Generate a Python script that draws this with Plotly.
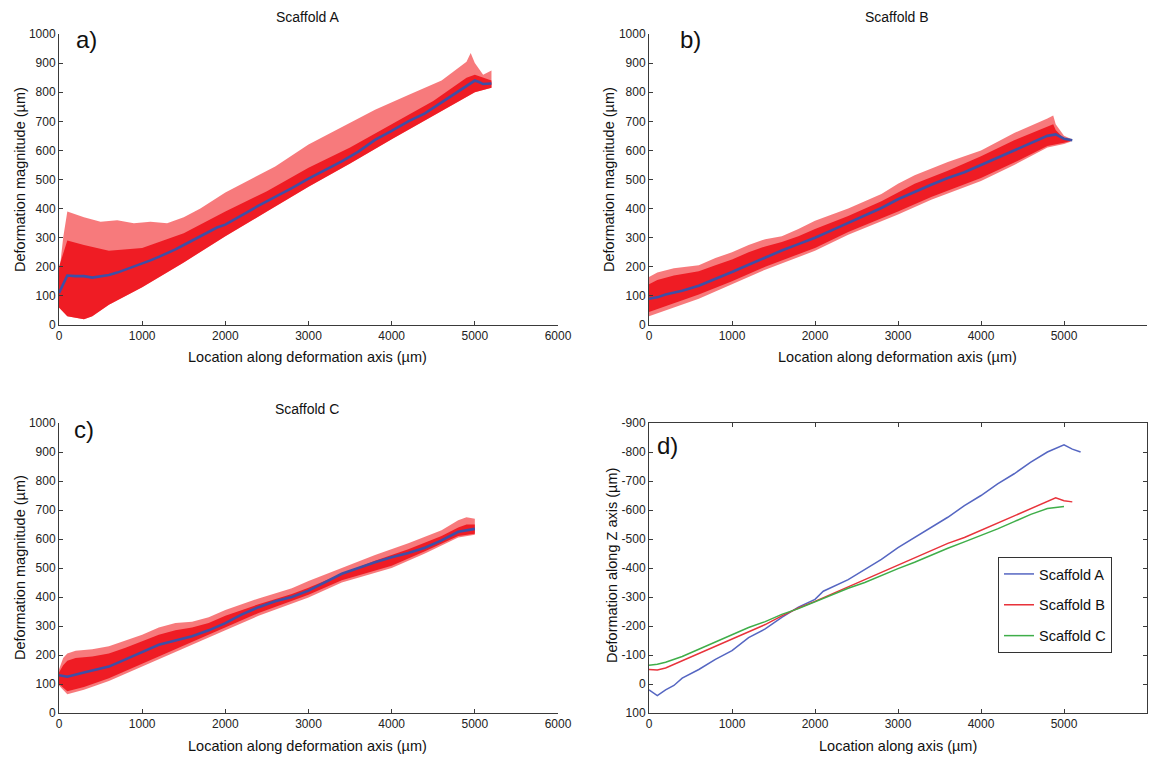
import plotly.graph_objects as go

# ---------------- data ----------------
# Scaffold A: cloud envelope (outer), dense core, and mean line
A_up_x = [0, 50, 100, 150, 300, 500, 700, 900, 1100, 1300, 1500, 1700, 2000, 2300, 2600, 3000, 3400, 3800, 4200, 4600, 4900, 4950, 5000, 5100, 5200]
A_up_y = [170, 300, 390, 385, 370, 355, 360, 350, 355, 350, 370, 400, 455, 500, 545, 620, 680, 740, 790, 840, 905, 935, 900, 860, 875]
A_lo_x = [0, 100, 200, 300, 400, 600, 1000, 1500, 2000, 2500, 3000, 3500, 4000, 4500, 5000, 5200]
A_lo_y = [60, 30, 25, 20, 30, 70, 130, 215, 305, 390, 475, 555, 638, 720, 800, 815]
A_core_x = [0, 100, 300, 600, 1000, 1500, 2000, 2500, 3000, 3500, 4000, 4500, 4900, 5000, 5200]
A_core_y = [200, 290, 275, 255, 265, 315, 390, 460, 540, 610, 690, 770, 850, 860, 840]
A_mean_x = [0, 50, 100, 200, 300, 400, 500, 600, 700, 800, 900, 1000, 1100, 1200, 1300, 1400, 1500, 1600, 1700, 1800, 1900, 2000, 2200, 2400, 2600, 2800, 3000, 3200, 3400, 3600, 3800, 4000, 4200, 4400, 4600, 4800, 5000, 5050, 5100, 5200]
A_mean_y = [110, 140, 170, 168, 168, 163, 168, 172, 180, 190, 200, 212, 222, 234, 246, 260, 275, 290, 305, 320, 335, 345, 378, 410, 440, 470, 503, 532, 562, 596, 636, 667, 700, 727, 765, 802, 840, 835, 828, 830]

# Scaffold B
B_up_x = [0, 100, 300, 600, 800, 1000, 1200, 1400, 1600, 1800, 2000, 2400, 2800, 3000, 3200, 3600, 4000, 4400, 4800, 4870, 4900, 5000, 5080]
B_up_y = [165, 180, 195, 205, 230, 250, 275, 295, 305, 330, 358, 400, 450, 485, 515, 560, 600, 660, 710, 720, 690, 650, 640]
B_lo_x = [0, 100, 300, 600, 1000, 1400, 2000, 2400, 3000, 3400, 4000, 4400, 4800, 5000, 5080]
B_lo_y = [30, 40, 60, 90, 140, 190, 255, 310, 380, 430, 495, 550, 610, 622, 630]
B_core_up = [140, 155, 170, 185, 205, 225, 250, 270, 285, 305, 330, 375, 425, 455, 485, 530, 580, 635, 680, 690, 670, 640, 635]
B_core_lo = [45, 55, 75, 105, 150, 200, 265, 320, 390, 440, 505, 558, 615, 626, 632]
B_mean_x = [0, 100, 200, 400, 600, 800, 1000, 1200, 1400, 1600, 1800, 2000, 2200, 2400, 2600, 2800, 3000, 3200, 3400, 3600, 3800, 4000, 4200, 4400, 4600, 4800, 4900, 5000, 5100]
B_mean_y = [90, 95, 105, 118, 135, 158, 182, 207, 232, 256, 278, 300, 325, 350, 375, 402, 432, 458, 482, 505, 525, 550, 575, 600, 625, 650, 655, 640, 635]

# Scaffold C
C_up_x = [0, 50, 100, 200, 400, 600, 800, 1000, 1200, 1400, 1600, 1800, 2000, 2400, 2800, 3000, 3400, 3800, 4200, 4600, 4800, 4900, 5000]
C_up_y = [150, 190, 205, 215, 220, 230, 250, 270, 295, 310, 315, 330, 355, 395, 430, 455, 500, 545, 585, 630, 665, 675, 670]
C_lo_x = [0, 100, 300, 600, 1000, 1400, 2000, 2400, 3000, 3400, 4000, 4400, 4800, 5000]
C_lo_y = [95, 65, 80, 110, 160, 210, 285, 335, 398, 450, 500, 550, 605, 615]
C_core_up = [140, 165, 180, 190, 195, 205, 225, 248, 270, 285, 295, 310, 335, 375, 410, 432, 480, 525, 565, 610, 640, 650, 650]
C_core_lo = [100, 75, 90, 120, 170, 220, 295, 345, 408, 458, 508, 558, 610, 618]
C_mean_x = [0, 100, 300, 600, 800, 1000, 1200, 1400, 1600, 1800, 2000, 2200, 2400, 2600, 2800, 3000, 3200, 3400, 3600, 3800, 4000, 4200, 4400, 4600, 4800, 4900, 5000]
C_mean_y = [130, 125, 140, 160, 185, 210, 235, 250, 265, 285, 310, 340, 365, 385, 400, 422, 450, 480, 500, 520, 537, 552, 570, 595, 625, 630, 635]

# Panel d: deformation along Z axis
D_x_A = [0, 50, 100, 200, 300, 400, 600, 800, 1000, 1200, 1400, 1600, 1800, 2000, 2100, 2400, 2600, 2800, 3000, 3200, 3400, 3600, 3800, 4000, 4200, 4400, 4600, 4800, 5000, 5100, 5200]
D_y_A = [20, 30, 40, 20, 5, -20, -50, -85, -115, -160, -190, -230, -265, -292, -320, -360, -395, -430, -470, -505, -540, -575, -615, -650, -690, -725, -765, -800, -825, -810, -800]
D_x_B = [0, 100, 200, 400, 600, 800, 1000, 1200, 1400, 1600, 1800, 2000, 2200, 2400, 2600, 2800, 3000, 3200, 3400, 3600, 3800, 4000, 4200, 4400, 4600, 4800, 4900, 5000, 5100]
D_y_B = [-50, -48, -55, -80, -105, -130, -155, -180, -205, -235, -262, -285, -310, -335, -360, -385, -410, -435, -460, -485, -505, -530, -555, -580, -605, -630, -642, -632, -628]
D_x_C = [0, 100, 200, 400, 600, 800, 1000, 1200, 1400, 1600, 1800, 2000, 2200, 2400, 2600, 2800, 3000, 3200, 3400, 3600, 3800, 4000, 4200, 4400, 4600, 4800, 5000]
D_y_C = [-65, -68, -75, -95, -120, -145, -170, -195, -215, -240, -260, -283, -305, -330, -350, -375, -398, -420, -445, -468, -490, -512, -535, -560, -585, -605, -612]

mag_ticks = [0, 100, 200, 300, 400, 500, 600, 700, 800, 900, 1000]
x_ticks = [0, 1000, 2000, 3000, 4000, 5000, 6000]
z_ticks = [-900, -800, -700, -600, -500, -400, -300, -200, -100, 0, 100]
z_tick_text = ["-900", "-800", "-700", "-600", "-500", "-400", "-300", "-200", "-100", "0", "100"]

# ---------------- figure ----------------
OFF = 8                      # page body margin in the browser
W, H = 1160 - OFF, 758 - OFF
FONT = "Liberation Sans, Arial, sans-serif"
OUTER = "rgba(242,40,44,0.62)"
CORE = "rgba(238,20,28,0.92)"
MEAN = "#3f4fa6"

fig = go.Figure()


def band(xu, yu, xl, yl, color, xa, ya):
    fig.add_trace(go.Scatter(
        x=list(xu) + list(xl)[::-1], y=list(yu) + list(yl)[::-1],
        fill="toself", fillcolor=color, mode="lines", line=dict(width=0),
        hoverinfo="skip", showlegend=False, xaxis=xa, yaxis=ya))


def mean(x, y, xa, ya):
    fig.add_trace(go.Scatter(x=x, y=y, mode="lines", line=dict(color=MEAN, width=2.6),
                             showlegend=False, xaxis=xa, yaxis=ya))


# Panel a
band(A_up_x, A_up_y, A_lo_x, A_lo_y, OUTER, "x", "y")
band(A_core_x, A_core_y, A_lo_x, A_lo_y, CORE, "x", "y")
mean(A_mean_x, A_mean_y, "x", "y")
# Panel b
band(B_up_x, B_up_y, B_lo_x, B_lo_y, OUTER, "x2", "y2")
band(B_up_x, B_core_up, B_lo_x, B_core_lo, CORE, "x2", "y2")
mean(B_mean_x, B_mean_y, "x2", "y2")
# Panel c
band(C_up_x, C_up_y, C_lo_x, C_lo_y, OUTER, "x3", "y3")
band(C_up_x, C_core_up, C_lo_x, C_core_lo, CORE, "x3", "y3")
mean(C_mean_x, C_mean_y, "x3", "y3")
# Panel d
for name, xs, ys, col, grp in [("Scaffold A", D_x_A, D_y_A, "#5566c2", "a"),
                               ("Scaffold B", D_x_B, D_y_B, "#e8333b", "b"),
                               ("Scaffold C", D_x_C, D_y_C, "#3fae49", "c")]:
    fig.add_trace(go.Scatter(x=xs, y=ys, mode="lines", name=name, legendgroup=grp,
                             line=dict(color=col, width=1.5), xaxis="x4", yaxis="y4"))


def fx(px):
    return (px - OFF) / W


def fy(py):
    return 1 - (py - OFF) / H


axis_common = dict(showline=True, linecolor="#3a3a3a", linewidth=1, ticks="inside", ticklen=4,
                   tickcolor="#3a3a3a", showgrid=False, zeroline=False, automargin=False,
                   tickfont=dict(family=FONT, size=12, color="#222"))

dom_left = [fx(59), fx(558)]
dom_right = [fx(649), fx(1147)]
dom_top = [fy(325), fy(34)]
dom_bot = [fy(713), fy(423)]

fig.update_layout(
    width=W, height=H, margin=dict(l=0, r=0, t=0, b=0, autoexpand=False),
    plot_bgcolor="white", paper_bgcolor="white",
    xaxis=dict(domain=dom_left, anchor="y", range=[0, 6000], tickvals=x_ticks, **axis_common),
    yaxis=dict(domain=dom_top, anchor="x", range=[0, 1000], tickvals=mag_ticks, **axis_common),
    xaxis2=dict(domain=dom_right, anchor="y2", range=[0, 6000], tickvals=x_ticks, **axis_common),
    yaxis2=dict(domain=dom_top, anchor="x2", range=[0, 1000], tickvals=mag_ticks, **axis_common),
    xaxis3=dict(domain=dom_left, anchor="y3", range=[0, 6000], tickvals=x_ticks, **axis_common),
    yaxis3=dict(domain=dom_bot, anchor="x3", range=[0, 1000], tickvals=mag_ticks, **axis_common),
    xaxis4=dict(domain=dom_right, anchor="y4", range=[0, 6000], tickvals=x_ticks, mirror="ticks", **axis_common),
    yaxis4=dict(domain=dom_bot, anchor="x4", range=[100, -900], tickvals=z_ticks, ticktext=z_tick_text,
                mirror="ticks", **axis_common),
    showlegend=True,
    legend=dict(x=fx(998), y=fy(557), xanchor="left", yanchor="top", xref="paper", yref="paper",
                bordercolor="#333", borderwidth=1, bgcolor="white", tracegroupgap=9,
                font=dict(family=FONT, size=14.5, color="#111")),
)

ann = []


def text(s, x, y, size, angle=0):
    ann.append(dict(text=s, x=fx(x), y=fy(y), xref="paper", yref="paper", showarrow=False,
                    textangle=angle, xanchor="center", yanchor="middle",
                    font=dict(family=FONT, size=size, color="#111")))


text("Scaffold A", 307, 17, 14)
text("Scaffold B", 897, 17, 14)
text("Scaffold C", 307, 409, 14)
text("a)", 86, 40, 24)
text("b)", 690, 40, 24)
text("c)", 84, 429, 24)
text("d)", 667, 445, 24)
text("Location along deformation axis (µm)", 307, 357, 14.5)
text("Location along deformation axis (µm)", 897, 357, 14.5)
text("Location along deformation axis (µm)", 307, 746, 14.5)
text("Location along axis (µm)", 898, 746, 14.5)
text("Deformation magnitude (µm)", 20, 180, 14.5, -90)
text("Deformation magnitude (µm)", 609, 180, 14.5, -90)
text("Deformation magnitude (µm)", 20, 568, 14.5, -90)
text("Deformation along Z axis (µm)", 612, 566, 14.5, -90)
fig.update_layout(annotations=ann)

fig.write_html("out.html")
